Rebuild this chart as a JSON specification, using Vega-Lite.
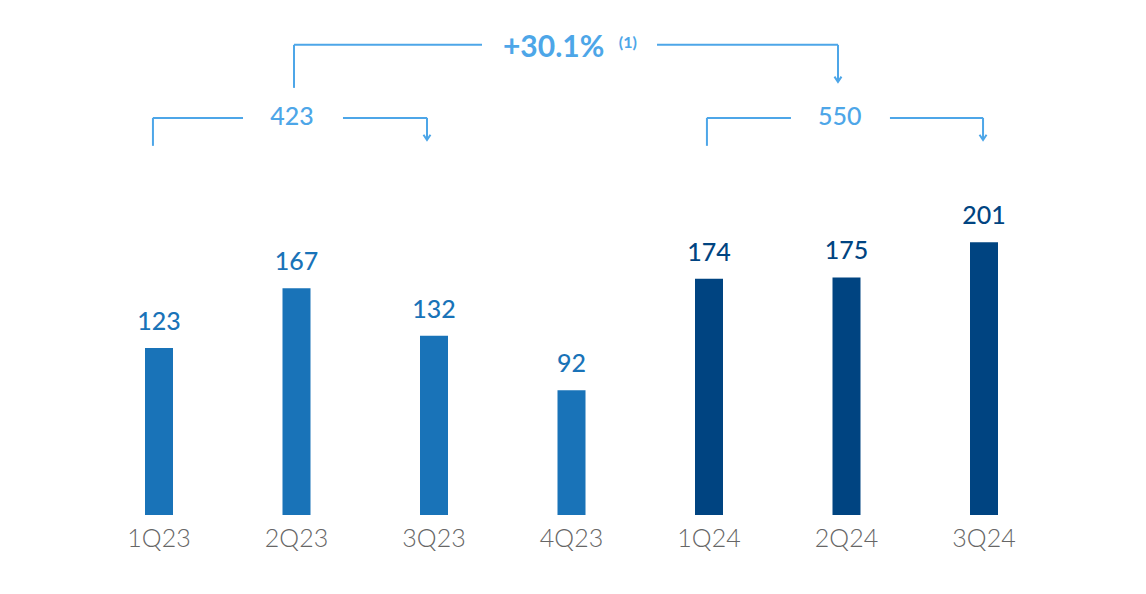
{
  "$schema": "https://vega.github.io/schema/vega-lite/v6.json",
  "width": 962.5,
  "height": 488.6,
  "autosize": "none",
  "padding": {"left": 90.25, "top": 26.4, "right": 93.25, "bottom": 79},
  "background": "white",
  "config": {"view": {"stroke": null}, "font": "Lato"},
  "datasets": {
    "bars": [
      {"quarter": "1Q23", "year": "2023", "value": 123},
      {"quarter": "2Q23", "year": "2023", "value": 167},
      {"quarter": "3Q23", "year": "2023", "value": 132},
      {"quarter": "4Q23", "year": "2023", "value": 92},
      {"quarter": "1Q24", "year": "2024", "value": 174},
      {"quarter": "2Q24", "year": "2024", "value": 175},
      {"quarter": "3Q24", "year": "2024", "value": 201}
    ],
    "segments": [
      {"x": 0.956, "x2": 0.956, "y": 272, "y2": 292.6},
      {"x": 0.956, "x2": 1.611, "y": 292.6, "y2": 292.6},
      {"x": 2.338, "x2": 2.949, "y": 292.6, "y2": 292.6},
      {"x": 2.949, "x2": 2.949, "y": 292.6, "y2": 276.3},
      {"x": 4.985, "x2": 4.985, "y": 272, "y2": 292.6},
      {"x": 4.985, "x2": 5.596, "y": 292.6, "y2": 292.6},
      {"x": 6.316, "x2": 6.993, "y": 292.6, "y2": 292.6},
      {"x": 6.993, "x2": 6.993, "y": 292.6, "y2": 276.3},
      {"x": 1.982, "x2": 1.982, "y": 314.7, "y2": 346.4},
      {"x": 1.982, "x2": 3.349, "y": 346.4, "y2": 346.4},
      {"x": 4.622, "x2": 5.938, "y": 346.4, "y2": 346.4},
      {"x": 5.938, "x2": 5.938, "y": 346.4, "y2": 319.1}
    ],
    "arrows": [
      {"x": 2.949, "y": 276.3},
      {"x": 6.993, "y": 276.3},
      {"x": 5.938, "y": 319.1}
    ],
    "notes": [
      {"x": 1.967, "y": 293.3, "label": "423", "kind": "total"},
      {"x": 5.95, "y": 293.3, "label": "550", "kind": "total"},
      {"x": 3.87, "y": 344.1, "label": "+30.1%", "kind": "growth"},
      {"x": 4.41, "y": 347.5, "label": "(1)", "kind": "footnote"}
    ]
  },
  "layer": [
    {
      "data": {"name": "bars"},
      "encoding": {
        "x": {
          "field": "quarter",
          "type": "ordinal",
          "sort": null,
          "scale": {"paddingInner": 0.796, "paddingOuter": 0.398},
          "axis": {
            "title": null,
            "domain": false,
            "ticks": false,
            "grid": false,
            "labelAngle": 0,
            "labelFontSize": 25,
            "labelFontWeight": 300,
            "labelColor": "#666666",
            "labelPadding": 11,
            "labelFont": "Lato"
          }
        },
        "y": {
          "field": "value",
          "type": "quantitative",
          "scale": {"domain": [0, 360], "nice": false, "zero": true},
          "axis": null
        },
        "color": {
          "field": "year",
          "type": "nominal",
          "scale": {"domain": ["2023", "2024"], "range": ["#1973b8", "#004481"]},
          "legend": null
        }
      },
      "layer": [
        {"mark": {"type": "bar", "width": 28}},
        {
          "mark": {"type": "text", "dy": -18, "baseline": "alphabetic", "fontSize": 25, "fontWeight": 500},
          "encoding": {"text": {"field": "value", "type": "quantitative"}}
        }
      ]
    },
    {
      "layer": [
        {
          "data": {"name": "segments"},
          "mark": {"type": "rule", "color": "#4da6e8", "strokeWidth": 2},
          "encoding": {
            "x": {"field": "x", "type": "quantitative", "scale": {"domain": [0.5, 7.5], "nice": false, "zero": false}, "axis": null},
            "x2": {"field": "x2"},
            "y": {"field": "y", "type": "quantitative", "scale": {"domain": [0, 360], "nice": false}, "axis": null},
            "y2": {"field": "y2"}
          }
        },
        {
          "data": {"name": "arrows"},
          "mark": {"type": "point", "shape": "M-1,-1.5L0,0L1,-1.5", "filled": false, "stroke": "#4da6e8", "strokeWidth": 2, "size": 49, "opacity": 1},
          "encoding": {
            "x": {"field": "x", "type": "quantitative", "scale": {"domain": [0.5, 7.5], "nice": false, "zero": false}, "axis": null},
            "y": {"field": "y", "type": "quantitative", "scale": {"domain": [0, 360], "nice": false}, "axis": null}
          }
        },
        {
          "data": {"name": "notes"},
          "transform": [{"filter": "datum.kind === 'total'"}],
          "mark": {"type": "text", "baseline": "middle", "fontSize": 25, "fontWeight": 500, "color": "#4da6e8"},
          "encoding": {
            "x": {"field": "x", "type": "quantitative", "scale": {"domain": [0.5, 7.5], "nice": false, "zero": false}, "axis": null},
            "y": {"field": "y", "type": "quantitative", "scale": {"domain": [0, 360], "nice": false}, "axis": null},
            "text": {"field": "label"}
          }
        },
        {
          "data": {"name": "notes"},
          "transform": [{"filter": "datum.kind === 'growth'"}],
          "mark": {"type": "text", "baseline": "middle", "fontSize": 30, "fontWeight": "bold", "color": "#4da6e8"},
          "encoding": {
            "x": {"field": "x", "type": "quantitative", "scale": {"domain": [0.5, 7.5], "nice": false, "zero": false}, "axis": null},
            "y": {"field": "y", "type": "quantitative", "scale": {"domain": [0, 360], "nice": false}, "axis": null},
            "text": {"field": "label"}
          }
        },
        {
          "data": {"name": "notes"},
          "transform": [{"filter": "datum.kind === 'footnote'"}],
          "mark": {"type": "text", "baseline": "middle", "fontSize": 16, "fontWeight": "bold", "color": "#4da6e8"},
          "encoding": {
            "x": {"field": "x", "type": "quantitative", "scale": {"domain": [0.5, 7.5], "nice": false, "zero": false}, "axis": null},
            "y": {"field": "y", "type": "quantitative", "scale": {"domain": [0, 360], "nice": false}, "axis": null},
            "text": {"field": "label"}
          }
        }
      ]
    }
  ],
  "resolve": {"scale": {"x": "independent"}}
}
